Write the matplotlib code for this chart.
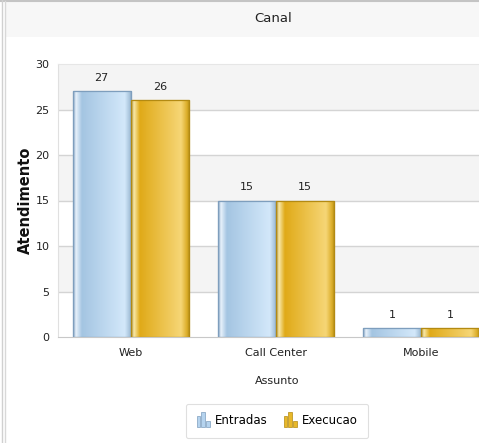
import numpy as np
import matplotlib
matplotlib.use("Agg")
import matplotlib.pyplot as plt
from matplotlib.colors import LinearSegmentedColormap
from matplotlib.patches import Rectangle
from matplotlib.legend_handler import HandlerBase

categories = ["Web", "Call Center", "Mobile"]
entradas = [27, 15, 1]
execucao = [26, 15, 1]
series_names = ["Entradas", "Execucao"]
yticks = [0, 5, 10, 15, 20, 25, 30]

W, H = 479, 443
fig = plt.figure(figsize=(W / 100, H / 100), dpi=100)
fig.patch.set_facecolor("white")

# frame & title band
fig.add_artist(Rectangle((5 / W, 1 - 37 / H), 1, 35 / H, transform=fig.transFigure,
                         facecolor="#f7f7f7", edgecolor="none", zorder=0))
fig.add_artist(plt.Line2D([0, 1], [1 - 0.8 / H] * 2, transform=fig.transFigure, color="#c4c4c4", lw=1.5))
fig.add_artist(plt.Line2D([1.5 / W] * 2, [0, 1], transform=fig.transFigure, color="#d0d0d0", lw=1))
fig.add_artist(plt.Line2D([5 / W] * 2, [0, 1 - 1 / H], transform=fig.transFigure, color="#d8d8d8", lw=1))
fig.text(273 / W, 1 - 19 / H, "Canal", ha="center", va="center", fontsize=9.5, color="#222222")

left, right, top, bottom = 58, 494, 64, 337
ax = fig.add_axes([left / W, 1 - bottom / H, (right - left) / W, (bottom - top) / H])
ax.set_xlim(-0.5, len(categories) - 0.5)
ax.set_ylim(0, 30)
ax.set_facecolor("white")

# alternating bands
for i in range(len(yticks) - 1):
    if i % 2 == 1:
        ax.axhspan(yticks[i], yticks[i + 1], color="#f4f4f4", zorder=0, lw=0)
for t in yticks[1:-1]:
    ax.axhline(t, color="#d4d4d4", lw=1, zorder=0.5)

x = np.arange(len(categories))
w = 0.4
b1 = ax.bar(x - w / 2, entradas, w, color="#b5d3ee", edgecolor="#7e9ebd", lw=0.8, zorder=2)
b2 = ax.bar(x + w / 2, execucao, w, color="#e8b82a", edgecolor="#b38a12", lw=0.8, zorder=2)

blue = LinearSegmentedColormap.from_list("b", [(0, "#7f9fbf"), (0.05, "#e8f2fb"), (0.15, "#a4c5e2"),
                                               (0.88, "#d3e8fa"), (0.96, "#a8c4dc"), (1, "#7f9fbf")])
gold = LinearSegmentedColormap.from_list("g", [(0, "#b8901a"), (0.05, "#f8e8a8"), (0.15, "#e0aa18"),
                                               (0.85, "#f6d676"), (0.95, "#dcae2a"), (1, "#b08a14")])
grad = np.linspace(0, 1, 256).reshape(1, -1)
for bars, cmap, ec in ((b1, blue, "#7e9ebd"), (b2, gold, "#b38a12")):
    for p in bars:
        x0, y0 = p.get_x(), p.get_y()
        im = ax.imshow(grad, cmap=cmap, aspect="auto", extent=(x0, x0 + p.get_width(), y0, y0 + p.get_height()),
                       zorder=2.5, interpolation="bilinear")
        im.set_clip_path(p)
        ax.add_patch(Rectangle((x0, y0), p.get_width(), p.get_height(), facecolor="none",
                               edgecolor=ec, lw=0.9, zorder=2.6))
    for p, v in zip(bars, bars.datavalues):
        ax.text(p.get_x() + p.get_width() / 2, v + 0.9, f"{int(v)}", ha="center", va="bottom",
                fontsize=8, color="#222222", zorder=3)

ax.set_yticks(yticks)
ax.set_yticklabels([str(t) for t in yticks], fontsize=8, color="#222222")
ax.set_xticks(x)
ax.set_xticklabels(categories, fontsize=8, color="#222222")
ax.tick_params(axis="y", length=0, pad=6)
ax.tick_params(axis="x", length=0, pad=8)
for s in ax.spines.values():
    s.set_visible(False)
ax.spines["bottom"].set_visible(True)
ax.spines["bottom"].set_color("#c8c8c8")
ax.spines["left"].set_visible(True)
ax.spines["left"].set_color("#e0e0e0")
ax.spines["top"].set_visible(True)
ax.spines["top"].set_color("#e6e6e6")

fig.text(25 / W, 1 - 200 / H, "Atendimento", rotation=90, ha="center", va="center",
         fontsize=10.5, fontweight="bold", color="#111111")
fig.text(277 / W, 1 - 381 / H, "Assunto", ha="center", va="center", fontsize=8, color="#222222")


class BarIcon(HandlerBase):
    def __init__(self, c1, c2):
        super().__init__()
        self.c1, self.c2 = c1, c2

    def create_artists(self, legend, orig_handle, xdescent, ydescent, width, height, fontsize, trans):
        arts = []
        bw = width / 3.8
        hs = [0.75, 1.0, 0.4]
        for i, hf in enumerate(hs):
            r = Rectangle((-xdescent + i * bw * 1.4, -ydescent - height * 0.15), bw, height * 1.45 * hf,
                          facecolor=self.c1, edgecolor=self.c2, lw=0.5, transform=trans)
            arts.append(r)
        return arts


h1 = Rectangle((0, 0), 1, 1)
h2 = Rectangle((0, 0), 1, 1)
leg = fig.legend([h1, h2], series_names, loc="center", bbox_to_anchor=(277 / W, 1 - 421 / H),
                 ncol=2, fontsize=8.5, frameon=True, handlelength=1.1, handleheight=1.0, handletextpad=0.4,
                 columnspacing=1.4, borderpad=0.9, fancybox=True,
                 handler_map={h1: BarIcon("#b5d3ee", "#7e9ebd"), h2: BarIcon("#e8b82a", "#b38a12")})
leg.get_frame().set_edgecolor("#d8d8d8")
leg.get_frame().set_linewidth(0.8)

fig.savefig("out.png", dpi=100)
